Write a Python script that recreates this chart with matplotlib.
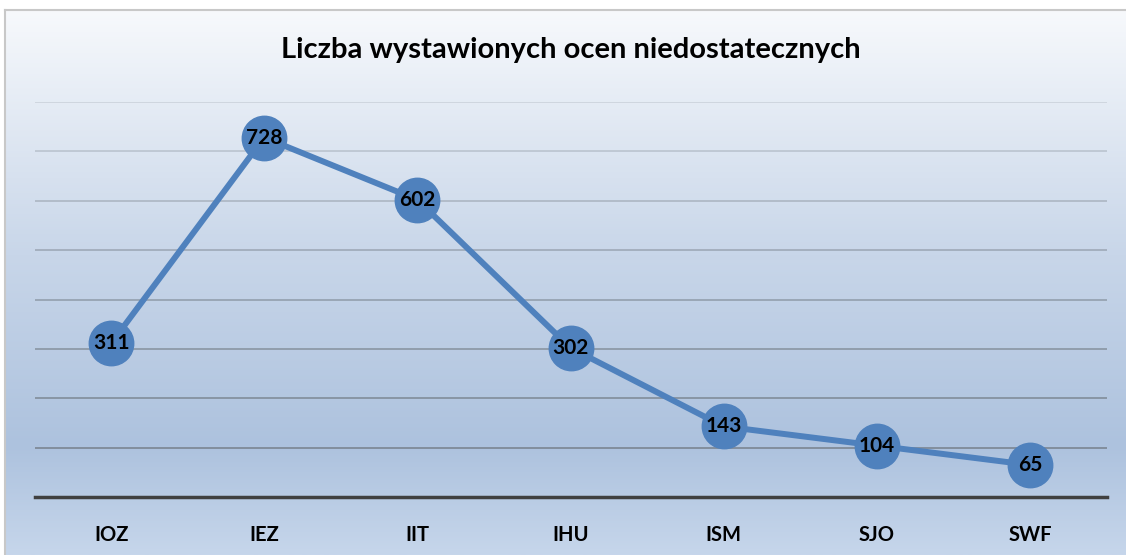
import matplotlib.pyplot as plt
import numpy as np
from matplotlib.colors import LinearSegmentedColormap

categories = ["IOZ", "IEZ", "IIT", "IHU", "ISM", "SJO", "SWF"]
values = [311, 728, 602, 302, 143, 104, 65]
title = "Liczba wystawionych ocen niedostatecznych"

W, H = 1126, 555
fig = plt.figure(figsize=(W / 100, H / 100), dpi=100)

# gradient background of the chart frame
bg = fig.add_axes([5 / W, 0, 1 - 5 / W, 1 - 10 / H], zorder=0)
cmap = LinearSegmentedColormap.from_list(
    "bg", [(0.0, "#c6d6eb"), (0.2, "#adc2de"), (0.55, "#c8d6e9"), (1.0, "#f7f9fc")])
bg.imshow(np.linspace(0, 1, 256).reshape(-1, 1), cmap=cmap, aspect="auto",
          origin="lower", extent=[0, 1, 0, 1])
bg.set_xlim(0, 1)
bg.set_ylim(0, 1)
bg.set_xticks([])
bg.set_yticks([])
for side in ["right", "bottom"]:
    bg.spines[side].set_visible(False)
for side in ["left", "top"]:
    bg.spines[side].set_color("#c8c8c8")
    bg.spines[side].set_linewidth(1.5)

ax = fig.add_axes([34.5 / W, 58 / H, 1072 / W, 395 / H], zorder=1)
ax.patch.set_alpha(0)
x = np.arange(len(categories))
ax.plot(x, values, color="#4f81bd", lw=4.3, marker="o", ms=32,
        markerfacecolor="#4f81bd", markeredgecolor="#4f81bd", zorder=3, clip_on=False)
for xi, v in zip(x, values):
    ax.text(xi, v, str(v), ha="center", va="center", fontsize=15,
            fontweight="bold", family="Lato", color="black", zorder=4)

ax.set_xlim(-0.5, len(categories) - 0.5)
ax.set_ylim(0, 800)
ax.set_yticks(range(100, 801, 100))
ax.set_axisbelow(True)
# gridlines fade out toward the top like the original
for t in range(100, 801, 100):
    a = 0.75 - 0.55 * (t - 100) / 700
    ax.axhline(t, color="#6f7780", alpha=a, lw=1.3, zorder=1)
ax.tick_params(axis="y", length=0, labelleft=False)
ax.tick_params(axis="x", length=0, pad=20)
ax.set_xticks(x)
ax.set_xticklabels(categories, fontsize=14.5, fontweight="bold", family="Lato")
for side in ["left", "right", "top"]:
    ax.spines[side].set_visible(False)
ax.spines["bottom"].set_color("#404040")
ax.spines["bottom"].set_linewidth(2.5)

fig.text(571 / W, 1 - 50 / H, title, ha="center", va="center",
         fontsize=21, fontweight="bold", family="Lato")

fig.savefig("out.png", dpi=100)
